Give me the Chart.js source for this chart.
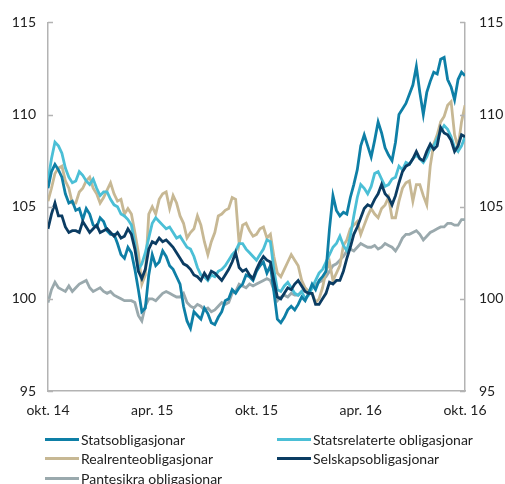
<!DOCTYPE html>
<html>
<head>
<meta charset="utf-8">
<script src="https://cdn.jsdelivr.net/npm/chart.js@4"></script>
<style>
    body { margin: 0; background: #fff; font-family: Lato, sans-serif; }
    #wrap { position: relative; width: 505px; height: 484px; }
    #legend { position: absolute; left: 0; top: 430px; width: 505px; font-size: 14px; color: #222; }
    .item { position: absolute; display: flex; align-items: center; height: 18px; white-space: nowrap; }
    .swatch { width: 34px; height: 3px; margin-right: 2px; }
</style>
</head>
<body>
<div id="wrap">
    <canvas id="chart" width="505" height="484"></canvas>
    <div id="legend"></div>
</div>
<script>
// x in months after okt. 14, every 0.2 month
const months = [];
for (let i = 0; i <= 120; i++) months.push(+(i * 0.2).toFixed(1));

const tickLabels = ['okt. 14', 'apr. 15', 'okt. 15', 'apr. 16', 'okt. 16'];
const seriesNames = ['Statsobligasjonar', 'Statsrelaterte obligasjonar', 'Realrenteobligasjonar', 'Selskapsobligasjonar', 'Pantesikra obligasjonar'];

const statsobligasjonar = [
    106.0, 106.9, 107.3, 107.0, 106.6, 105.7, 105.2, 105.3, 104.8, 104.9,
    104.3, 104.9, 104.6, 104.0, 103.9, 104.4, 104.2, 103.7, 103.5, 103.5,
    103.0, 102.4, 102.2, 102.8, 102.5, 101.6, 100.5, 99.3, 99.5, 101.3,
    102.4, 101.8, 102.0, 102.6, 102.3, 101.8, 101.6, 101.2, 100.8, 99.6,
    98.8, 98.4, 99.3, 99.1, 98.9, 99.5, 99.2, 98.7, 98.6, 99.0,
    99.3, 99.9, 100.0, 100.5, 100.3, 100.6, 100.8, 101.3, 101.2, 101.0,
    101.5, 101.8, 102.0, 101.4, 101.8, 100.4, 98.9, 98.7, 99.0, 99.4,
    99.6, 99.4, 99.7, 100.1, 99.9, 100.3, 100.8, 100.5, 101.0, 101.2,
    101.5, 103.8, 105.6, 104.8, 104.5, 104.7, 104.6, 105.5, 106.2, 107.0,
    108.3, 108.9, 108.3, 107.7, 108.6, 109.6, 109.0, 108.2, 107.8, 107.5,
    108.5, 110.0, 110.3, 110.6, 111.1, 111.6, 112.6, 111.2, 110.0, 111.2,
    111.8, 112.3, 112.2, 113.0, 113.1, 111.9, 111.5, 110.8, 111.9, 112.3,
    112.1];

const statsrelaterte = [
    106.4, 107.6, 108.5, 108.3, 107.9, 107.1, 106.6, 106.3, 106.4, 106.9,
    106.7, 106.4, 106.2, 106.5, 106.0, 105.6, 105.8, 105.8, 105.4, 105.1,
    105.0, 104.6, 104.5, 104.3, 104.0, 103.0, 101.6, 101.9, 102.5, 103.3,
    104.1, 104.4, 104.2, 104.0, 103.8, 103.9, 103.6, 103.3, 103.4, 103.1,
    102.8, 102.7, 102.3, 101.7, 101.3, 101.2, 101.0, 101.3, 101.2, 101.5,
    101.6, 101.8, 102.1, 102.4, 102.6, 103.0, 103.0, 102.7, 102.5, 102.3,
    102.1, 102.4, 102.7, 103.2, 103.1, 101.6, 100.5, 100.4, 100.7, 100.9,
    100.6, 100.3, 100.2, 100.4, 100.0, 100.2, 100.6, 101.0, 101.4, 101.6,
    102.0, 102.4, 102.8, 103.0, 103.4, 102.9, 102.6, 103.4, 104.5, 105.5,
    106.2, 106.0, 105.7, 106.1, 106.8, 106.9, 106.5, 106.1, 106.2, 106.5,
    106.6, 107.2, 107.0, 107.4, 107.3, 107.6, 107.8, 107.6, 107.4, 107.7,
    108.2, 108.3, 108.7, 109.1, 109.4, 109.2, 108.8, 108.2, 108.0, 108.3,
    108.8];

const realrente = [
    105.3, 106.0, 106.8, 107.1, 107.2, 106.4, 106.0, 105.2, 105.2, 105.8,
    106.0, 106.4, 106.6, 106.0, 105.7, 105.2, 105.5, 105.9, 106.3, 105.7,
    105.3, 105.4, 104.6, 104.9, 104.6, 103.6, 102.5, 100.8, 101.3, 104.6,
    105.0, 104.6, 105.4, 105.7, 105.8, 104.9, 105.6, 105.2, 104.5, 104.1,
    103.3, 103.6, 103.8, 104.5, 104.0, 103.1, 102.4, 103.1, 103.6, 104.5,
    104.6, 104.8, 104.9, 105.5, 105.4, 103.0, 104.0, 104.1, 103.7, 103.4,
    103.5, 103.8, 103.9, 103.3, 103.5, 102.3, 101.4, 101.2, 101.6, 102.0,
    102.4, 102.1, 101.8, 101.0, 100.6, 100.4, 100.3, 99.8, 100.0, 100.6,
    101.5, 102.0, 101.0, 101.4, 101.8, 102.9, 103.2, 103.8, 104.0, 104.2,
    103.5, 104.0, 104.5, 104.9, 104.6, 104.4, 104.9, 105.1, 105.5, 104.4,
    104.4, 105.3, 106.0, 106.3, 106.4, 105.3, 106.2, 106.2, 105.6, 105.1,
    107.2, 108.4, 108.9, 109.6, 109.9, 110.5, 110.7, 108.9, 108.2, 109.6,
    110.5];

const selskaps = [
    103.8, 104.6, 105.2, 104.5, 104.5, 103.9, 103.6, 103.7, 103.7, 103.6,
    104.2, 103.9, 103.6, 103.8, 104.0, 103.6, 103.7, 103.8, 103.6, 103.4,
    103.6, 103.3, 103.4, 103.8, 103.5, 102.7, 101.5, 101.1, 101.6, 102.7,
    103.1, 103.0, 103.3, 103.1, 103.2, 103.0, 102.8, 102.5, 102.2, 101.9,
    101.8, 101.6, 101.3, 101.2, 101.0, 101.4, 101.1, 101.5, 101.4, 101.2,
    101.0, 101.3, 101.6, 102.0, 102.5, 101.7, 101.5, 101.6, 101.3, 101.1,
    101.6, 102.0, 102.3, 102.1, 102.0, 101.0, 100.1, 100.0, 100.3, 100.6,
    100.5, 100.8, 101.0, 100.7, 100.4, 100.3, 100.3, 99.7, 99.7, 100.0,
    100.3, 100.9, 100.8, 101.0, 101.0, 101.5, 102.2, 102.8, 103.5, 103.9,
    104.4, 104.9, 105.1, 105.0, 105.4, 105.7, 106.2, 105.7, 105.5, 105.1,
    105.6, 106.3, 106.9, 107.2, 107.3, 107.6, 108.0, 107.6, 107.5, 108.0,
    108.4, 108.1, 108.3, 109.3, 109.0, 108.9, 108.6, 108.0, 108.3, 108.9,
    108.8];

const pantesikra = [
    99.8, 100.5, 100.9, 100.6, 100.5, 100.4, 100.7, 100.4, 100.6, 100.8,
    100.9, 101.0, 100.6, 100.4, 100.5, 100.6, 100.4, 100.3, 100.4, 100.2,
    100.1, 100.0, 99.9, 99.9, 99.9, 99.8, 99.1, 98.8, 99.6, 100.0,
    100.0, 99.9, 100.1, 100.3, 100.4, 100.3, 100.2, 100.1, 100.1, 100.3,
    99.8, 99.6, 99.5, 99.7, 99.6, 99.4, 99.5, 99.3, 99.4, 99.6,
    99.8, 99.7, 99.8, 100.3, 100.4, 100.8, 100.7, 100.6, 100.8, 100.7,
    100.8, 100.9, 101.0, 101.1, 101.0, 100.5, 99.9, 100.1, 100.2, 100.1,
    100.3, 100.2, 100.2, 100.4, 100.5, 100.4, 100.6, 100.8, 100.9, 101.0,
    101.2, 101.5, 101.8, 101.9, 102.1, 102.3, 102.6, 102.7, 102.6, 102.8,
    103.0, 102.9, 102.8, 102.8, 102.9, 102.7, 102.8, 103.0, 102.9, 102.8,
    102.6, 102.9, 103.3, 103.5, 103.5, 103.6, 103.7, 103.5, 103.2, 103.4,
    103.6, 103.7, 103.8, 103.9, 103.9, 104.1, 104.1, 104.0, 104.0, 104.3,
    104.3];

const colors = ['#0e7fa6', '#4bbfd6', '#c7b894', '#0b3c62', '#9aa9ad'];
const allSeries = [statsobligasjonar, statsrelaterte, realrente, selskaps, pantesikra];
const drawOrder = [1, 2, 3, 0, 4];

const datasets = allSeries.map((vals, k) => ({
    label: seriesNames[k],
    data: vals.map((v, i) => ({ x: months[i], y: v })),
    borderColor: colors[k],
    borderWidth: 2.8,
    pointRadius: 0,
    tension: 0,
    order: drawOrder[k]
}));

// small inward tick marks on both y axes
const innerTicks = {
    id: 'innerTicks',
    afterDraw(chart) {
        const ctx = chart.ctx;
        const area = chart.chartArea;
        ctx.save();
        ctx.strokeStyle = '#b3b3b3';
        ctx.lineWidth = 1.5;
        chart.scales.y.ticks.forEach(t => {
            const py = Math.round(chart.scales.y.getPixelForValue(t.value)) + 0.5;
            ctx.beginPath();
            ctx.moveTo(area.left, py);
            ctx.lineTo(area.left + 5, py);
            ctx.moveTo(area.right, py);
            ctx.lineTo(area.right - 5, py);
            ctx.stroke();
        });
        ctx.restore();
    }
};

const tickFont = { family: 'Lato', size: 14 };
const noGrid = { display: false, drawTicks: false };
const axisBorder = { display: true, color: '#b3b3b3', width: 1.5 };

new Chart(document.getElementById('chart').getContext('2d'), {
    type: 'line',
    data: { datasets: datasets },
    options: {
        responsive: false,
        animation: false,
        layout: { padding: { top: 20 } },
        plugins: { legend: { display: false }, tooltip: { enabled: false } },
        scales: {
            x: {
                type: 'linear',
                min: 0,
                max: 24,
                afterFit: s => { s.height = 93; },
                grid: noGrid,
                border: axisBorder,
                ticks: {
                    stepSize: 6,
                    padding: 11,
                    color: '#222',
                    font: tickFont,
                    maxRotation: 0,
                    callback: v => tickLabels[v / 6]
                }
            },
            y: {
                position: 'left',
                min: 95,
                max: 115,
                afterFit: s => { s.width = 48; },
                grid: noGrid,
                border: axisBorder,
                ticks: { stepSize: 5, padding: 12, color: '#222', font: tickFont }
            },
            y2: {
                position: 'right',
                min: 95,
                max: 115,
                afterFit: s => { s.width = 40; },
                grid: noGrid,
                border: axisBorder,
                ticks: { stepSize: 5, padding: 14, color: '#222', font: tickFont }
            }
        }
    },
    plugins: [innerTicks]
});

// legend in two columns
const legendPos = [[45, 0], [277, 0], [45, 19], [277, 19], [45, 39]];
const legend = document.getElementById('legend');
seriesNames.forEach((name, k) => {
    const item = document.createElement('div');
    item.className = 'item';
    item.style.left = legendPos[k][0] + 'px';
    item.style.top = legendPos[k][1] + 'px';
    item.innerHTML = '<span class="swatch" style="background:' + colors[k] + '"></span>' + name;
    legend.appendChild(item);
});
</script>
</body>
</html>
